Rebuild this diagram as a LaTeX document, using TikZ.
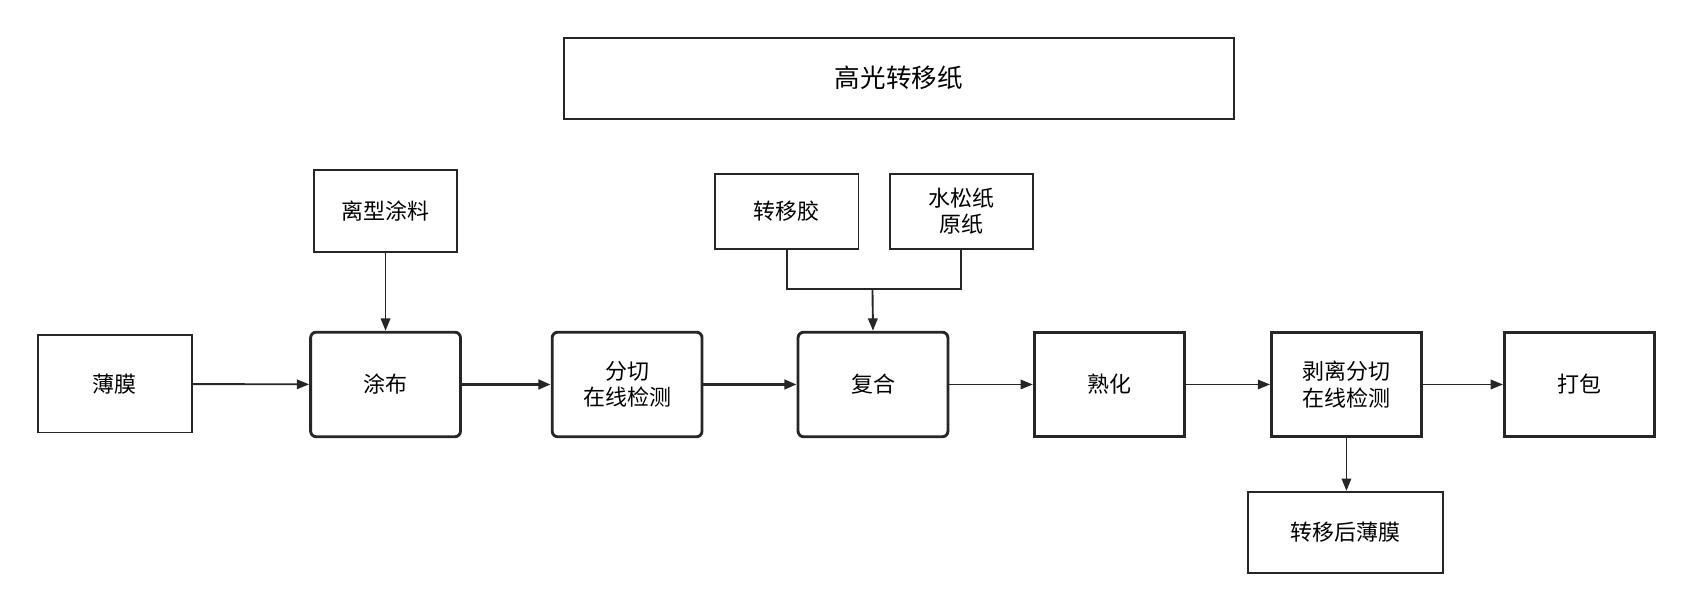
\documentclass[tikz,border=0pt]{standalone}
\usepackage{fontspec}
\setmainfont{Noto Sans CJK SC}
\usetikzlibrary{arrows.meta}
\newcommand{\bx}[7]{\node[#1,minimum width={(#5-#3)*0.02cm},minimum height={(#6-#4)*0.02cm}] (#2) at ({(#3+#5)/2},{(#4+#6)/2}) {#7};}
\begin{document}
\begin{tikzpicture}[x=0.02cm,y=-0.02cm,
  box/.style={draw=black!85,line width=1pt,font=\fontsize{11.6}{14}\selectfont,align=center,inner sep=0pt},
  rbox/.style={box,rounded corners=3pt,line width=1.5pt},
  arr/.style={-{Triangle[length=6.5pt,width=5pt]},line width=1pt,draw=black!85},
  tarr/.style={arr,line width=1.6pt}]
\bx{box,font=\fontsize{13.5}{16}\selectfont}{title}{523}{35}{1144}{110}{高光转移纸}
\bx{box}{lx}{291}{158}{424}{234}{离型涂料}
\bx{box}{zyj}{663}{161}{796}{231}{转移胶}
\bx{box}{ssz}{825}{161}{958}{231}{水松纸\\原纸}
\bx{box}{bm}{35}{311}{178}{401}{薄膜}
\bx{rbox}{tb}{288}{308}{427}{405}{涂布}
\bx{rbox}{fq}{512}{308}{651}{405}{分切\\在线检测}
\bx{rbox}{fh}{740}{308}{879}{405}{复合}
\bx{box,line width=1.5pt}{sh}{959}{308}{1098}{405}{熟化}
\bx{box,line width=1.5pt}{bl}{1179}{308}{1318}{405}{剥离分切\\在线检测}
\bx{box,line width=1.5pt}{db}{1395}{308}{1534}{405}{打包}
\bx{box}{zyh}{1157}{456}{1338}{531}{转移后薄膜}
\coordinate (m) at (809,268);
\draw[arr] (bm) -- (tb);
\draw[tarr] (tb) -- (fq);
\draw[tarr] (fq) -- (fh);
\draw[arr] (fh) -- (sh);
\draw[arr] (sh) -- (bl);
\draw[arr] (bl) -- (db);
\draw[arr] (lx) -- (tb);
\draw[arr] (bl.south) -- (bl.south |- zyh.north);
\draw[line width=1pt,draw=black!85] (zyj.south) |- (m) -| (ssz.south);
\draw[arr] (m) -- (fh.north);
\pgfresetboundingbox
\path[use as bounding box] (0,0) rectangle (1568,566);
\end{tikzpicture}
\end{document}
